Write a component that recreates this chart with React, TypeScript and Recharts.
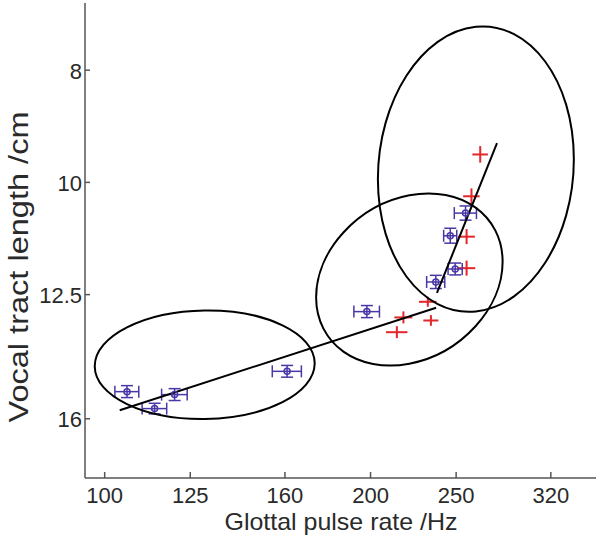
import { ErrorBar, Scatter, ScatterChart, XAxis, YAxis } from "recharts"

type Pt = { x: number; y: number }
type ErrPt = Pt & { ex: number; ey: number }

const xTicks = [100, 125, 160, 200, 250, 320]
const yTicks = [8, 10, 12.5, 16]

// blue group: circle markers with capped error bars
const bluePoints: ErrPt[] = [
  { x: 106.0, y: 15.16, ex: 3.3, ey: 0.18 },
  { x: 113.9, y: 15.68, ex: 3.65, ey: 0.165 },
  { x: 120.0, y: 15.25, ex: 4.0, ey: 0.18 },
  { x: 160.9, y: 14.56, ex: 6.1, ey: 0.17 },
  { x: 198.1, y: 12.93, ex: 6.6, ey: 0.155 },
  { x: 237.1, y: 12.19, ex: 5.6, ey: 0.16 },
  { x: 249.4, y: 11.88, ex: 4.6, ey: 0.14 },
  { x: 246.2, y: 11.12, ex: 4.2, ey: 0.165 },
  { x: 256.2, y: 10.63, ex: 7.4, ey: 0.15 },
]

// red group: plain crosses
const redPoints: ErrPt[] = [
  { x: 232.2, y: 12.68, ex: 5.3, ey: 0.126 },
  { x: 217.9, y: 13.08, ex: 5.1, ey: 0.156 },
  { x: 234.1, y: 13.16, ex: 4.6, ey: 0.139 },
  { x: 214.2, y: 13.47, ex: 6.0, ey: 0.16 },
  { x: 266.2, y: 9.46, ex: 5.4, ey: 0.156 },
  { x: 260.2, y: 10.28, ex: 5.6, ey: 0.16 },
  { x: 256.9, y: 11.14, ex: 5.6, ey: 0.166 },
  { x: 256.9, y: 11.86, ex: 5.9, ey: 0.177 },
]

// regression lines
const fitLow: Pt[] = [
  { x: 104.0, y: 15.73 },
  { x: 237.3, y: 12.83 },
]
const fitHigh: Pt[] = [
  { x: 237.8, y: 12.46 },
  { x: 278.1, y: 9.25 },
]

// ellipses: [centre, rightmost point, point straight above centre]
const ellipseLow: Pt[] = [
  { x: 129.8, y: 14.37 },
  { x: 172.9, y: 14.33 },
  { x: 129.8, y: 12.9 },
]
const ellipseMid: Pt[] = [
  { x: 221.3, y: 12.13 },
  { x: 282.2, y: 11.71 },
  { x: 221.3, y: 10.26 },
]
const ellipseHigh: Pt[] = [
  { x: 263.2, y: 9.74 },
  { x: 339.8, y: 9.55 },
  { x: 263.2, y: 7.34 },
]

const BLUE = "#4a37a6"
const RED = "#e3262b"
const AXIS = "#555"
const TEXT = "#2a2a2a"
const FONT = "Liberation Sans"

// draws an ellipse from the scaled centre and two conjugate semi-diameter ends
function ellipseCurve(context: any) {
  let pts: number[][] = []
  return {
    areaStart() {},
    areaEnd() {},
    lineStart() {
      pts = []
    },
    point(x: number, y: number) {
      pts.push([x, y])
    },
    lineEnd() {
      if (pts.length < 3) return
      const [c, r, v] = pts
      const a = [r[0] - c[0], r[1] - c[1]]
      const b = [v[0] - c[0], v[1] - c[1]]
      const k = 0.5523
      const at = (s: number, t: number) => [c[0] + s * a[0] + t * b[0], c[1] + s * a[1] + t * b[1]]
      const segs = [
        [at(1, k), at(k, 1), at(0, 1)],
        [at(-k, 1), at(-1, k), at(-1, 0)],
        [at(-1, -k), at(-k, -1), at(0, -1)],
        [at(k, -1), at(1, -k), at(1, 0)],
      ]
      const s0 = at(1, 0)
      context.moveTo(s0[0], s0[1])
      segs.forEach(([p1, p2, p3]) => context.bezierCurveTo(p1[0], p1[1], p2[0], p2[1], p3[0], p3[1]))
      context.closePath()
    },
  }
}

const noShape = () => <g />

const blueDot = (props: any) => (
  <circle cx={props.cx} cy={props.cy} r={3} fill="none" stroke={BLUE} strokeWidth={1.5} />
)

const XTick = (props: any) => (
  <text x={props.x} y={props.y + 25} textAnchor="middle" fontSize={22} fontFamily={FONT} fill={TEXT}>
    {props.payload.value}
  </text>
)

const YTick = (props: any) => (
  <text x={props.x} y={props.y + 8.5} textAnchor="end" fontSize={22} fontFamily={FONT} fill={TEXT}>
    {props.payload.value}
  </text>
)

const xLabel = () => (
  <text
    x={341}
    y={530}
    textAnchor="middle"
    fontSize={24}
    fontFamily={FONT}
    fill={TEXT}
    textLength={233}
    lengthAdjust="spacingAndGlyphs"
  >
    Glottal pulse rate /Hz
  </text>
)

const yLabel = () => (
  <text
    x={28}
    y={267}
    transform="rotate(-90 28 267)"
    textAnchor="middle"
    fontSize={27}
    fontFamily={FONT}
    fill={TEXT}
    textLength={311}
    lengthAdjust="spacingAndGlyphs"
  >
    Vocal tract length /cm
  </text>
)

const outline = { stroke: "#000", strokeWidth: 2, fill: "none" }

export default function App() {
  return (
    <div style={{ position: "absolute", left: 0, top: 0, width: 600, height: 537, background: "#fff" }}>
      <ScatterChart width={600} height={537} margin={{ top: 3, right: 4, bottom: 0, left: 0 }}>
        <XAxis
          type="number"
          dataKey="x"
          scale="log"
          domain={[95, 360]}
          allowDataOverflow
          ticks={xTicks}
          height={59}
          axisLine={{ stroke: AXIS, strokeWidth: 1.5 }}
          tickLine={{ stroke: AXIS, strokeWidth: 1.5 }}
          tickSize={-6}
          tickMargin={6}
          tick={<XTick />}
          label={xLabel}
        />
        <YAxis
          type="number"
          dataKey="y"
          scale="log"
          domain={[7, 18]}
          reversed
          allowDataOverflow
          ticks={yTicks}
          width={85}
          axisLine={{ stroke: AXIS, strokeWidth: 1.5 }}
          tickLine={{ stroke: AXIS, strokeWidth: 1.5 }}
          tickSize={-5}
          tickMargin={8}
          tick={<YTick />}
          label={yLabel}
        />

        <Scatter data={ellipseLow} line={outline} lineType="joint" lineJointType={ellipseCurve as any} shape={noShape} isAnimationActive={false} />
        <Scatter data={ellipseMid} line={outline} lineType="joint" lineJointType={ellipseCurve as any} shape={noShape} isAnimationActive={false} />
        <Scatter data={ellipseHigh} line={outline} lineType="joint" lineJointType={ellipseCurve as any} shape={noShape} isAnimationActive={false} />
        <Scatter data={fitLow} line={outline} lineType="joint" shape={noShape} isAnimationActive={false} />
        <Scatter data={fitHigh} line={outline} lineType="joint" shape={noShape} isAnimationActive={false} />

        <Scatter data={redPoints} shape={noShape} isAnimationActive={false}>
          <ErrorBar dataKey="ex" direction="x" width={0} stroke={RED} strokeWidth={2} isAnimationActive={false} />
          <ErrorBar dataKey="ey" direction="y" width={0} stroke={RED} strokeWidth={2} isAnimationActive={false} />
        </Scatter>
        <Scatter data={bluePoints} shape={blueDot} isAnimationActive={false}>
          <ErrorBar dataKey="ex" direction="x" width={6} stroke={BLUE} strokeWidth={1.5} isAnimationActive={false} />
          <ErrorBar dataKey="ey" direction="y" width={6} stroke={BLUE} strokeWidth={1.5} isAnimationActive={false} />
        </Scatter>
      </ScatterChart>
    </div>
  )
}
